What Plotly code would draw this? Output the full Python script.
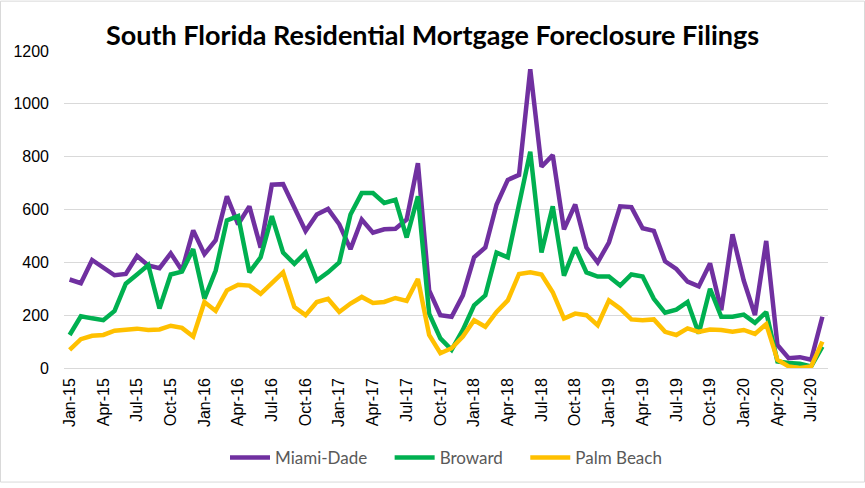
import plotly.graph_objects as go

month_names = ["Jan", "Feb", "Mar", "Apr", "May", "Jun", "Jul", "Aug", "Sep", "Oct", "Nov", "Dec"]
months = [f"{m}-{y:02d}" for y in range(15, 21) for m in month_names][:68]

miami_dade = [335, 321, 409, 381, 351, 356, 424, 388, 378, 434, 369, 521,
              431, 484, 650, 544, 612, 456, 694, 696, 612, 519, 581, 602,
              544, 450, 562, 512, 525, 527, 562, 775, 294, 200, 194, 275,
              419, 456, 619, 712, 731, 1131, 762, 806, 525, 619, 456, 400,
              475, 612, 609, 529, 519, 404, 375, 327, 309, 396, 219, 506,
              331, 200, 481, 87, 37, 41, 31, 194]
broward = [125, 196, 188, 181, 216, 319, 354, 390, 225, 354, 365, 450,
           262, 369, 559, 575, 362, 419, 575, 437, 394, 437, 331, 362,
           400, 581, 662, 662, 625, 637, 494, 650, 206, 112, 69, 144,
           237, 275, 437, 419, 619, 819, 437, 612, 350, 456, 362, 346,
           346, 312, 354, 346, 262, 209, 221, 250, 131, 300, 194, 194,
           202, 171, 212, 25, 19, 16, 6, 81]
palm_beach = [69, 109, 122, 125, 141, 146, 149, 144, 146, 160, 152, 119,
              250, 216, 294, 315, 312, 281, 319, 362, 231, 200, 250, 262,
              212, 244, 269, 246, 250, 265, 254, 337, 125, 56, 75, 119,
              181, 156, 212, 256, 356, 362, 354, 287, 187, 206, 200, 162,
              256, 225, 184, 181, 184, 137, 125, 150, 137, 146, 144, 137,
              144, 129, 166, 31, 6, 0, 6, 100]

series = [("Miami-Dade", miami_dade, "#7030A0"),
          ("Broward", broward, "#00B050"),
          ("Palm Beach", palm_beach, "#FFC000")]
legend_pad = ["\u00a0" * 4, "\u00a0" * 4, ""]

tick_vals = months[::3]

fig = go.Figure()
for (name, vals, color), pad in zip(series, legend_pad):
    fig.add_trace(go.Scatter(x=months, y=vals, mode="lines", name=name + pad,
                             line=dict(color=color, width=4.5)))

W, H = 865, 488
ml, mr, mt, mb = 64, 37, 51, 116
pw, ph = W - ml - mr, H - mt - mb

fig.update_layout(
    width=W, height=H,
    margin=dict(l=ml, r=mr, t=mt, b=mb),
    paper_bgcolor="white", plot_bgcolor="white",
    title=dict(text="<b>South Florida Residential Mortgage Foreclosure Filings</b>",
               x=0.5, xanchor="center", y=1 - 36 / H, yanchor="middle",
               font=dict(family="Lato, Open Sans, sans-serif", size=27, color="black")),
    xaxis=dict(type="category", categoryorder="array", categoryarray=months,
               range=[-0.5, 67.5], tickmode="array", tickvals=tick_vals,
               ticktext=tick_vals, tickangle=-90, showgrid=False, ticks="",
               showline=False, zeroline=False, ticklabelstandoff=6,
               tickfont=dict(family="Liberation Sans, Arial", size=16, color="#000000")),
    yaxis=dict(range=[0, 1200], tickmode="array", tickvals=list(range(0, 1201, 200)),
               showgrid=True, gridcolor="#D9D9D9", gridwidth=1.3, zeroline=True,
               zerolinecolor="#D9D9D9", zerolinewidth=1.3, ticks="",
               ticklabelstandoff=14,
               tickfont=dict(family="Liberation Sans, Arial", size=16, color="#000000")),
    legend=dict(orientation="h", x=0.5, xanchor="center", y=-(463 - 372) / ph,
                yanchor="middle", font=dict(family="Lato, Open Sans, sans-serif",
                                            size=17, color="#595959"),
                itemwidth=40, tracegroupgap=0),
    showlegend=True,
)

fig.add_shape(type="rect", xref="paper", yref="paper",
              x0=(-ml + 0.5) / pw, x1=1 + (mr - 0.5) / pw,
              y0=-(mb - 0.5) / ph, y1=1 + (mt - 0.5) / ph,
              line=dict(color="#D9D9D9", width=1), fillcolor="rgba(0,0,0,0)", layer="below")

fig.write_html("out.html")
